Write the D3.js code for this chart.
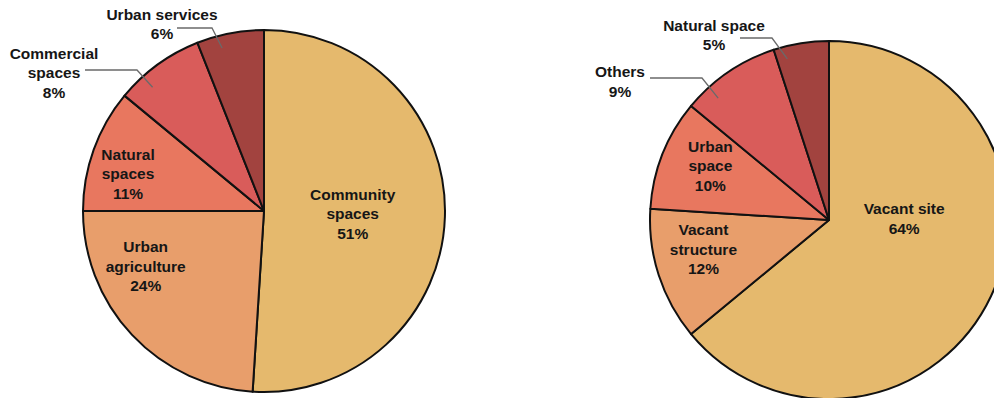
<!DOCTYPE html>
<html><head><meta charset="utf-8">
<script src="https://cdn.jsdelivr.net/npm/d3@7"></script>
<style>body{margin:0;background:#fff}svg{display:block}</style>
</head><body>
<svg id="c" width="994" height="398"></svg>
<script>
// ---- data ----
const leftCategories = ["Community spaces", "Urban agriculture", "Natural spaces", "Commercial spaces", "Urban services"];
const leftValues = [51, 24, 11, 8, 6];
const rightCategories = ["Vacant site", "Vacant structure", "Urban space", "Others", "Natural space"];
const rightValues = [64, 12, 10, 9, 5];

// ---- styling / layout ----
const colors = ["#E5B96D", "#E89E6B", "#E8775F", "#D95C5A", "#A2433F"];
const charts = [
  { cx: 264, cy: 211, R: 181, cats: leftCategories, vals: leftValues,
    lines: [["Community", "spaces"], ["Urban", "agriculture"], ["Natural", "spaces"], ["Commercial", "spaces"], ["Urban services"]],
    layout: [
      { a: 91.3, f: 0.49 },
      { a: 245.2, f: 0.72 },
      { a: 285.6, f: 0.78 },
      { out: true, tx: 54, ty: 72, lx0: 85, ly: 70, ex: 137, endA: 318, endF: 0.92 },
      { out: true, tx: 162, ty: 23.5, lx0: 177, ly: 28, ex: 212, endA: 345.6, endF: 0.93 }
    ] },
  { cx: 829, cy: 220, R: 179, cats: rightCategories, vals: rightValues,
    lines: [["Vacant site"], ["Vacant", "structure"], ["Urban", "space"], ["Others"], ["Natural space"]],
    layout: [
      { a: 88.5, f: 0.42 },
      { a: 257, f: 0.72 },
      { a: 294.8, f: 0.73 },
      { out: true, tx: 620, ty: 81, lx0: 650, ly: 78, ex: 702, endA: 317.7, endF: 0.92 },
      { out: true, tx: 714, ty: 34.5, lx0: 740, ly: 38, ex: 772, endA: 345.5, endF: 0.93 }
    ] }
];

const svg = d3.select("#c");
const pie = d3.pie().sort(null).value(d => d);
const LH = 19.5;

function polar(cx, cy, aDeg, r) {
  const t = aDeg * Math.PI / 180;
  return [cx + r * Math.sin(t), cy - r * Math.cos(t)];
}

charts.forEach(ch => {
  const R = ch.R;
  const arc = d3.arc().innerRadius(0).outerRadius(R);
  const g = svg.append("g").attr("transform", `translate(${ch.cx},${ch.cy})`);
  const arcs = pie(ch.vals);
  g.selectAll("path").data(arcs).join("path")
    .attr("d", arc)
    .attr("fill", (d, i) => colors[i])
    .attr("stroke", "#111")
    .attr("stroke-width", 2)
    .attr("stroke-linejoin", "round");

  arcs.forEach((d, i) => {
    const L = ch.layout[i];
    const textLines = ch.lines[i].concat([ch.vals[i] + "%"]);
    let x, y;
    if (!L.out) {
      [x, y] = polar(ch.cx, ch.cy, L.a, L.f * R);
    } else {
      x = L.tx; y = L.ty;
      const [ex2, ey2] = polar(ch.cx, ch.cy, L.endA, L.endF * R);
      svg.append("polyline")
        .attr("points", [[L.lx0, L.ly], [L.ex, L.ly], [ex2, ey2]].map(p => p.join(",")).join(" "))
        .attr("fill", "none").attr("stroke", "#6a6a6a").attr("stroke-width", 1.3);
    }
    const t = svg.append("text")
      .attr("x", x).attr("y", y - (textLines.length - 1) * LH / 2)
      .attr("text-anchor", "middle")
      .attr("dominant-baseline", "central")
      .attr("font-family", "'Liberation Sans', Arial, Helvetica, sans-serif")
      .attr("font-weight", "bold")
      .attr("font-size", 15.5)
      .attr("fill", "#161616");
    textLines.forEach((s, k) => {
      t.append("tspan").attr("x", x).attr("dy", k === 0 ? 0 : LH).text(s);
    });
  });
});
</script>
</body></html>
